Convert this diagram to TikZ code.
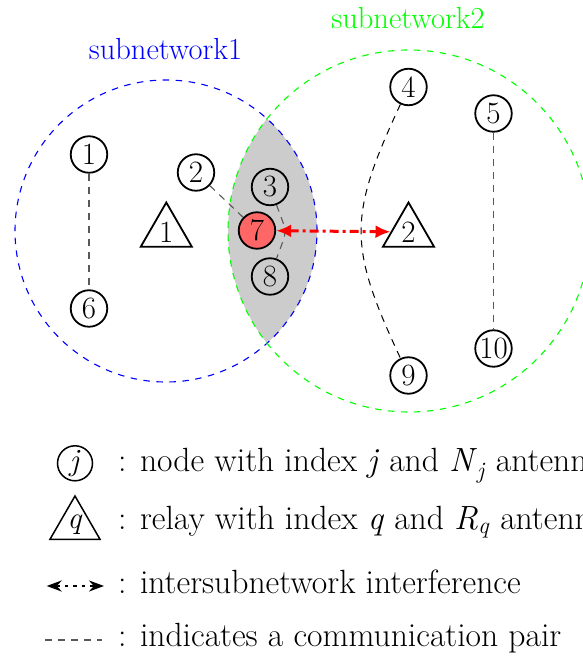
\documentclass[tikz,border=0pt]{standalone}
\newcommand\labsize{\fontsize{30.5}{34}\selectfont}
\newcommand\keysize{\fontsize{33.6}{38}\selectfont}
\newcommand\numsize{\fontsize{31}{31}\selectfont}
\newcommand\keygap{0.4em}
\usetikzlibrary{arrows.meta,shapes.geometric}
\definecolor{pgreen}{rgb}{0,1,0}
\definecolor{pblue}{rgb}{0,0,1}
\definecolor{lensgray}{rgb}{0.8,0.8,0.8}
\definecolor{hotnode}{rgb}{1,0.4,0.4}
\begin{document}
\begin{tikzpicture}[x=1pt,y=1pt,
  txt/.style={font=\labsize, inner sep=0pt},
  keytxt/.style={font=\keysize, inner sep=0pt},
  pnode/.style={circle, draw, line width=1.8pt, minimum size=36.5pt, inner sep=0pt, font=\numsize},
  relay/.style={regular polygon, regular polygon sides=3, draw, line width=1.8pt, minimum size=59pt, inner sep=0pt, font=\numsize},
  pair/.style={black!65, line width=1.1pt, dash pattern=on 7pt off 6pt},
  netring/.style={line width=1.1pt, dash pattern=on 6.5pt off 6.5pt},
  interf/.style={red, line width=3pt, dash pattern=on 9pt off 4pt on 3pt off 4pt, {Latex[length=15pt,width=13pt]}-{Latex[length=15pt,width=13pt]}},
  interfkey/.style={black, line width=2.2pt, dash pattern=on 4pt off 5pt on 3pt off 5pt, {Stealth[length=15pt,width=11pt]}-{Stealth[length=15pt,width=11pt]}}
]
\useasboundingbox (0,0) rectangle (582,664);

% lens (intersection of the two subnetworks)
\begin{scope}
  \clip (166,433) circle (151);
  \fill[lensgray] (409,433) circle (181);
\end{scope}
\draw[netring, pblue] (166,433) circle (151);
\draw[netring, pgreen] (409,433) circle (181);

\node[txt, pblue, anchor=base] (lab1) at (165.5,604) {subnetwork1};
\node[txt, pgreen, anchor=base] (lab2) at (408,635) {subnetwork2};

% nodes
\node[pnode] (n1) at (89,509.5) {1};
\node[pnode] (n6) at (89,355.5) {6};
\node[pnode] (n2) at (196,491.5) {2};
\node[pnode] (n3) at (270,477) {3};
\node[pnode, fill=hotnode] (n7) at (257,433.5) {7};
\node[pnode] (n8) at (270,387.5) {8};
\node[pnode] (n4) at (408.5,577) {4};
\node[pnode] (n9) at (408.5,288.5) {9};
\node[pnode] (n5) at (493.5,550.5) {5};
\node[pnode] (n10) at (493.5,315.5) {10};

% relays
\node[relay] (r1) at (166.3,432) {1};
\node[relay] (r2) at (408.5,432) {2};

% communication pairs
\draw[pair] (n1) -- (n6);
\draw[pair] (n5) -- (n10);
\draw[pair] (n2) -- (n7);
\draw[pair] (n3.-70) .. controls +(-70:33) and +(70:33) .. (n8.70);
\draw[pair, black, line width=1pt] (n4.-115) .. controls +(-115:124) and +(115:124) .. (n9.115);

% intersubnetwork interference
\draw[interf] (n7) -- (r2);

% legend
\node[pnode, line width=1.5pt, minimum size=35pt] (kj) at (75,200.7) {\textit{j}};
\node[relay, line width=1.5pt, minimum size=58pt] (kq) at (75,139) {\textit{q}};
\coordinate (ka) at (46.7,78);
\coordinate (kb) at (104,78);
\draw[interfkey] (ka) -- (kb);
\coordinate (kc) at (45,24);
\coordinate (kd) at (102,24);
\draw[pair] (kc) -- (kd);

\node[keytxt, anchor=base west] (t1) at (118,192) {:\hspace{\keygap}node with index \textit{j} and \textit{N}\textsubscript{\textit{j}} antennas};
\node[keytxt, anchor=base west] (t2) at (118,134) {:\hspace{\keygap}relay with index \textit{q} and \textit{R}\textsubscript{\textit{q}} antennas};
\node[keytxt, anchor=base west] (t3) at (118,70) {:\hspace{\keygap}intersubnetwork interference};
\node[keytxt, anchor=base west] (t4) at (118,17) {:\hspace{\keygap}indicates a communication pair};
\end{tikzpicture}
\end{document}
